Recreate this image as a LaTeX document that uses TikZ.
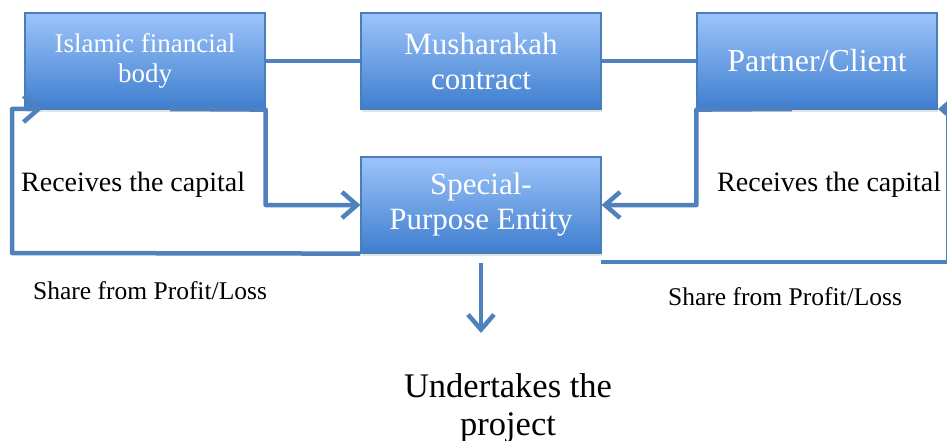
\documentclass[tikz,border=0pt]{standalone}
\usepackage{fontspec}
\setmainfont{Liberation Serif}
\usetikzlibrary{arrows.meta,shadows}
\definecolor{conncol}{RGB}{79,129,189}
\definecolor{boxtop}{RGB}{157,196,251}
\definecolor{boxbot}{RGB}{62,126,206}
\definecolor{boxline}{RGB}{74,126,187}
\tikzset{
  bluebox/.style={rectangle, draw=boxline, line width=1.2pt, top color=boxtop, bottom color=boxbot,
    minimum width=240pt, minimum height=96pt, inner sep=0pt, align=center, text=white,
    drop shadow={shadow xshift=1pt, shadow yshift=-3pt, opacity=0.2}},
  conn/.style={draw=conncol, line width=4.5pt, line join=round},
  arr/.style={conn, -{Straight Barb[length=15pt,width=26pt,line width=4.5pt]}},
  lbl/.style={inner sep=0pt, text=black},
}
\begin{document}
\begin{tikzpicture}[x=1pt,y=-1pt]
\clip (0,0) rectangle (947,441);
\fill[white] (0,0) rectangle (947,441);
% boxes
\node[bluebox, font=\fontsize{27}{30}\selectfont] (ifb) at (145,61) {Islamic financial\\body};
\node[bluebox, font=\fontsize{31}{35}\selectfont] (mc) at (481,61) {Musharakah\\contract};
\node[bluebox, font=\fontsize{32}{35}\selectfont] (pc) at (817,61) {Partner/Client};
\node[bluebox, font=\fontsize{31}{35}\selectfont] (spe) at (481,205) {Special-\\Purpose Entity};
% labels
\node[lbl, anchor=west, font=\fontsize{28}{30}\selectfont] (rc1) at (21,185) {Receives the capital};
\node[lbl, anchor=west, font=\fontsize{28}{30}\selectfont] (rc2) at (717,185) {Receives the capital};
\node[lbl, anchor=west, font=\fontsize{25.5}{30}\selectfont] (sp1) at (33,291) {Share from Profit/Loss};
\node[lbl, anchor=west, font=\fontsize{25.5}{30}\selectfont] (sp2) at (668,297) {Share from Profit/Loss};
\node[lbl, align=center, font=\fontsize{34.5}{38}\selectfont] (ut) at (508,408) {Undertakes the\\project};
% coordinates
\coordinate (a1) at (170,109);
\coordinate (a2) at (792,109);
\coordinate (l1) at (12,253);
\coordinate (l2) at (42,109);
\coordinate (r0) at (601,262);
\coordinate (r1) at (948,262);
\coordinate (r2) at (938,109);
\coordinate (d0) at (481,263);
\coordinate (d1) at (481,333);
% connectors
\draw[conn] (ifb.east) -- (mc.west);
\draw[conn] (mc.east) -- (pc.west);
\draw[arr] (a1) -- (ifb.south east) |- (spe.west);
\draw[arr] (a2) -- (pc.south west) |- (spe.east);
\draw[arr] (spe.south west) -- (l1) |- (l2);
\draw[arr] (r0) -- (r1) |- (r2);
\draw[arr] (d0) -- (d1);
\end{tikzpicture}
\end{document}
